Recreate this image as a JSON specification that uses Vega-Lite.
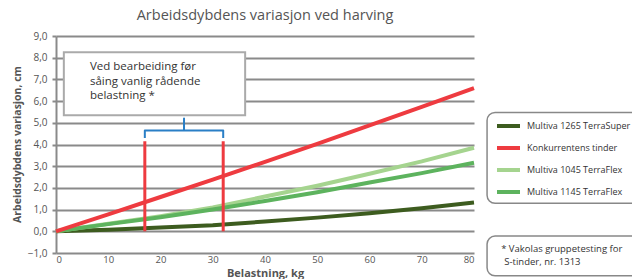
{
  "$schema": "https://vega.github.io/schema/vega-lite/v6.json",
  "width": 418,
  "height": 217,
  "autosize": {"type": "none"},
  "padding": {"left": 56, "top": 36, "right": 158, "bottom": 26},
  "background": "white",
  "config": {
    "font": "Open Sans",
    "view": {"stroke": null},
    "axisY": {"tickCount": 10, "labelOverlap": false},
    "axisX": {"tickCount": 8, "labelOverlap": false}
  },
  "title": {
    "text": "Arbeidsdybdens variasjon ved harving",
    "fontSize": 14.5,
    "fontWeight": "normal",
    "color": "#555555",
    "anchor": "middle",
    "offset": 8
  },
  "datasets": {
    "series": [
      {"kg": 0, "cm": 0, "serie": "Multiva 1265 TerraSuper"},
      {"kg": 10, "cm": 0.07, "serie": "Multiva 1265 TerraSuper"},
      {"kg": 20, "cm": 0.17, "serie": "Multiva 1265 TerraSuper"},
      {"kg": 30, "cm": 0.28, "serie": "Multiva 1265 TerraSuper"},
      {"kg": 40, "cm": 0.45, "serie": "Multiva 1265 TerraSuper"},
      {"kg": 50, "cm": 0.63, "serie": "Multiva 1265 TerraSuper"},
      {"kg": 60, "cm": 0.83, "serie": "Multiva 1265 TerraSuper"},
      {"kg": 70, "cm": 1.06, "serie": "Multiva 1265 TerraSuper"},
      {"kg": 80, "cm": 1.33, "serie": "Multiva 1265 TerraSuper"},
      {"kg": 0, "cm": 0, "serie": "Multiva 1045 TerraFlex"},
      {"kg": 10, "cm": 0.35, "serie": "Multiva 1045 TerraFlex"},
      {"kg": 20, "cm": 0.7, "serie": "Multiva 1045 TerraFlex"},
      {"kg": 30, "cm": 1.1, "serie": "Multiva 1045 TerraFlex"},
      {"kg": 40, "cm": 1.6, "serie": "Multiva 1045 TerraFlex"},
      {"kg": 50, "cm": 2.1, "serie": "Multiva 1045 TerraFlex"},
      {"kg": 60, "cm": 2.65, "serie": "Multiva 1045 TerraFlex"},
      {"kg": 70, "cm": 3.22, "serie": "Multiva 1045 TerraFlex"},
      {"kg": 80, "cm": 3.85, "serie": "Multiva 1045 TerraFlex"},
      {"kg": 0, "cm": 0, "serie": "Multiva 1145 TerraFlex"},
      {"kg": 10, "cm": 0.33, "serie": "Multiva 1145 TerraFlex"},
      {"kg": 20, "cm": 0.65, "serie": "Multiva 1145 TerraFlex"},
      {"kg": 30, "cm": 1.0, "serie": "Multiva 1145 TerraFlex"},
      {"kg": 40, "cm": 1.4, "serie": "Multiva 1145 TerraFlex"},
      {"kg": 50, "cm": 1.8, "serie": "Multiva 1145 TerraFlex"},
      {"kg": 60, "cm": 2.25, "serie": "Multiva 1145 TerraFlex"},
      {"kg": 70, "cm": 2.68, "serie": "Multiva 1145 TerraFlex"},
      {"kg": 80, "cm": 3.16, "serie": "Multiva 1145 TerraFlex"},
      {"kg": 0, "cm": 0, "serie": "Konkurrentens tinder"},
      {"kg": 10, "cm": 0.78, "serie": "Konkurrentens tinder"},
      {"kg": 20, "cm": 1.58, "serie": "Konkurrentens tinder"},
      {"kg": 30, "cm": 2.38, "serie": "Konkurrentens tinder"},
      {"kg": 40, "cm": 3.2, "serie": "Konkurrentens tinder"},
      {"kg": 50, "cm": 4.03, "serie": "Konkurrentens tinder"},
      {"kg": 60, "cm": 4.88, "serie": "Konkurrentens tinder"},
      {"kg": 70, "cm": 5.73, "serie": "Konkurrentens tinder"},
      {"kg": 80, "cm": 6.6, "serie": "Konkurrentens tinder"}
    ],
    "markers": [
      {"kg": 17, "bot": 0, "top": 4.15},
      {"kg": 32, "bot": 0, "top": 4.15}
    ],
    "bracket": [
      {"i": 1, "kg": 17, "cm": 4.3},
      {"i": 2, "kg": 17, "cm": 4.65},
      {"i": 3, "kg": 24.5, "cm": 4.65},
      {"i": 4, "kg": 24.5, "cm": 5.2},
      {"i": 5, "kg": 24.5, "cm": 4.65},
      {"i": 6, "kg": 32, "cm": 4.65},
      {"i": 7, "kg": 32, "cm": 4.3}
    ],
    "notebox": [
      {"xa": 1.5, "xb": 36.2, "ya": 5.35, "yb": 8.25}
    ],
    "notetext": [
      {"kg": 6.5, "cm": 7.55, "t": "Ved bearbeiding før"},
      {"kg": 6.5, "cm": 6.88, "t": "såing vanlig rådende"},
      {"kg": 6.5, "cm": 6.22, "t": "belastning *"}
    ],
    "legendbox": [
      {"xa": 82.5, "xb": 125, "ya": 5.48, "yb": 1.29}
    ],
    "footbox": [
      {"xa": 82.5, "xb": 125, "ya": -0.22, "yb": -2.05}
    ],
    "foottext": [
      {"kg": 85.2, "cm": -0.8, "t": "* Vakolas gruppetesting for"},
      {"kg": 85.8, "cm": -1.42, "t": "S-tinder, nr. 1313"}
    ]
  },
  "layer": [
    {
      "data": {"name": "legendbox"},
      "mark": {"type": "rect", "fill": "white", "stroke": "#888888", "strokeWidth": 1.5, "cornerRadius": 8},
      "encoding": {
        "x": {"field": "xa", "type": "quantitative"},
        "x2": {"field": "xb"},
        "y": {"field": "ya", "type": "quantitative"},
        "y2": {"field": "yb"}
      }
    },
    {
      "data": {"name": "series"},
      "mark": {"type": "line", "strokeWidth": 4, "strokeCap": "butt"},
      "encoding": {
        "x": {
          "field": "kg", "type": "quantitative",
          "scale": {"domain": [0, 80], "nice": false},
          "axis": {
            "title": "Belastning, kg",
            "titleFontSize": 11,
            "titleFontWeight": "bold",
            "titleColor": "#555555",
            "titleY": 20,
            "titleBaseline": "middle",
            "labelFontSize": 9.5,
            "labelColor": "#555555",
            "ticks": false,
            "domain": false,
            "grid": false,
            "labelPadding": 1
          }
        },
        "y": {
          "field": "cm", "type": "quantitative",
          "scale": {"domain": [-1, 9], "nice": false},
          "axis": {
            "labelExpr": "replace(format(datum.value, '.1f'), '.', ',')",
            "title": "Arbeidsdybdens variasjon, cm",
            "titleFontSize": 10.5,
            "titleFontWeight": "bold",
            "titleColor": "#555555",
            "titleX": -39,
            "titleY": 108,
            "titleAngle": -90,
            "titleAlign": "center",
            "titleBaseline": "middle",
            "labelFontSize": 10,
            "labelColor": "#555555",
            "grid": true,
            "gridColor": "#8a8a8a",
            "gridWidth": 2,
            "domain": true,
            "domainColor": "#8a8a8a",
            "domainWidth": 2,
            "tickColor": "#8a8a8a",
            "tickWidth": 2,
            "tickSize": 4,
            "labelPadding": 5
          }
        },
        "color": {
          "field": "serie", "type": "nominal",
          "scale": {
            "domain": ["Multiva 1265 TerraSuper", "Konkurrentens tinder", "Multiva 1045 TerraFlex", "Multiva 1145 TerraFlex"],
            "range": ["#3d5c1f", "#ee3b40", "#a5d48f", "#5db35e"]
          },
          "legend": {
            "title": null,
            "orient": "none",
            "legendX": 439,
            "legendY": 76.5,
            "symbolType": "stroke",
            "symbolStrokeWidth": 4,
            "symbolSize": 529,
            "labelFontSize": 9,
            "labelColor": "#333333",
            "labelOffset": 5,
            "labelLimit": 0,
            "rowPadding": -1,
            "padding": 0
          }
        }
      }
    },
    {
      "data": {"name": "notebox"},
      "mark": {"type": "rect", "fill": "white", "stroke": "#aaaaaa", "strokeWidth": 2},
      "encoding": {
        "x": {"field": "xa", "type": "quantitative"},
        "x2": {"field": "xb"},
        "y": {"field": "ya", "type": "quantitative"},
        "y2": {"field": "yb"}
      }
    },
    {
      "data": {"name": "notetext"},
      "mark": {"type": "text", "align": "left", "baseline": "middle", "fontSize": 11.5, "color": "#333333"},
      "encoding": {
        "x": {"field": "kg", "type": "quantitative"},
        "y": {"field": "cm", "type": "quantitative"},
        "text": {"field": "t", "type": "nominal"}
      }
    },
    {
      "data": {"name": "markers"},
      "mark": {"type": "rule", "color": "#ee3b40", "strokeWidth": 3},
      "encoding": {
        "x": {"field": "kg", "type": "quantitative"},
        "y": {"field": "bot", "type": "quantitative"},
        "y2": {"field": "top"}
      }
    },
    {
      "data": {"name": "bracket"},
      "mark": {"type": "line", "color": "#2a7fc6", "strokeWidth": 2, "strokeJoin": "round"},
      "encoding": {
        "x": {"field": "kg", "type": "quantitative"},
        "y": {"field": "cm", "type": "quantitative"},
        "order": {"field": "i", "type": "quantitative"}
      }
    },
    {
      "data": {"name": "footbox"},
      "mark": {"type": "rect", "fill": "white", "stroke": "#888888", "strokeWidth": 1.5, "cornerRadius": 8},
      "encoding": {
        "x": {"field": "xa", "type": "quantitative"},
        "x2": {"field": "xb"},
        "y": {"field": "ya", "type": "quantitative"},
        "y2": {"field": "yb"}
      }
    },
    {
      "data": {"name": "foottext"},
      "mark": {"type": "text", "align": "left", "baseline": "middle", "fontSize": 9.5, "color": "#333333"},
      "encoding": {
        "x": {"field": "kg", "type": "quantitative"},
        "y": {"field": "cm", "type": "quantitative"},
        "text": {"field": "t", "type": "nominal"}
      }
    }
  ]
}
